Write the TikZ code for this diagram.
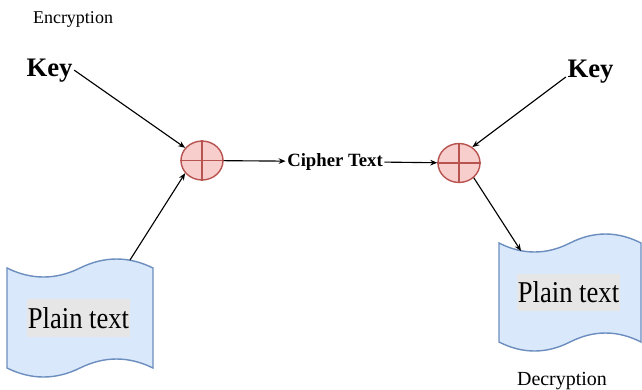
\documentclass[tikz,border=0pt]{standalone}
\usepackage{fontspec}
\usepackage{graphicx}
\setmainfont{Liberation Serif}
\usetikzlibrary{shapes.geometric,arrows.meta}

\definecolor{tapefill}{HTML}{DAE8FC}
\definecolor{tapeline}{HTML}{6C8EBF}
\definecolor{xorfill}{HTML}{F8CECC}
\definecolor{xorline}{HTML}{B85450}
\definecolor{hilite}{HTML}{E6E6E6}

\tikzset{
  xorop/.style={ellipse, draw=xorline, fill=xorfill, line width=1pt,
    minimum width=29.9pt, minimum height=27.7pt, inner sep=0pt},
  keytxt/.style={font=\fontsize{19}{22}\selectfont\bfseries, inner sep=1pt},
  plaintxt/.style={fill=hilite, inner xsep=0.5pt, inner ysep=0pt,
    minimum height=27pt, font=\fontsize{21.5}{24}\selectfont},
  flow/.style={line width=0.8pt, -{Stealth[length=5pt,width=4pt]}},
  pics/tape/.style 2 args={code={
    \draw[draw=tapeline, fill=tapefill, line width=1pt]
      (0,10) .. controls (#1/6,22) and (#1/3,22) .. (#1/2,10)
      .. controls (2*#1/3,-2) and (5*#1/6,-2) .. (#1,10)
      -- (#1,#2-10)
      .. controls (5*#1/6,#2-22) and (2*#1/3,#2-22) .. (#1/2,#2-10)
      .. controls (#1/3,#2+2) and (#1/6,#2+2) .. (0,#2-10) -- cycle;
  }}
}

\begin{document}
\begin{tikzpicture}[x=0.025cm, y=-0.025cm]
    \useasboundingbox (0,0) rectangle (642,389);

    % Plain text documents
    \pic at (7,258) {tape={146}{120}};
    \pic at (499,233) {tape={142}{119}};
    \node [plaintxt] (ptL) at (78.5,318) {\scalebox{0.88}[1]{Plain text}};
    \node [plaintxt] (ptR) at (568.5,292.5) {\scalebox{0.88}[1]{Plain text}};

    % XOR operators
    \node [xorop] (cL) at (202,160.5) {};
    \node [xorop] (cR) at (459,163) {};
    \draw [xorline, line width=1pt] (cL.north) -- (cL.south) (cL.west) -- (cL.east);
    \draw [xorline, line width=1pt] (cR.north) -- (cR.south) (cR.west) -- (cR.east);

    % Labels
    \node [font=\fontsize{12.8}{15}\selectfont, anchor=base] (enc) at (73,23) {Encryption};
    \node [font=\fontsize{14.2}{17}\selectfont, anchor=base] (dec) at (562,385) {Decryption};
    \node [keytxt, anchor=base] (keyL) at (49.5,76) {Key};
    \node [keytxt, anchor=base] (keyR) at (590.5,77) {Key};
    \node [font=\fontsize{13.3}{16}\selectfont\bfseries, anchor=base, inner xsep=1pt] (cipher) at (335,166) {Cipher Text};

    \coordinate (tapeL) at (130,260);
    \coordinate (tapeR) at (521,251);

    % Connections
    \draw [flow] (keyL.east) -- (cL.143);
    \draw [flow] (tapeL) -- (cL.217);
    \draw [flow] (cL) -- (cipher);
    \draw [flow] (cipher) -- (cR);
    \draw [flow] (keyR.base west) -- (cR.50);
    \draw [flow] (cR.-45) -- (tapeR);

\end{tikzpicture}
\end{document}
